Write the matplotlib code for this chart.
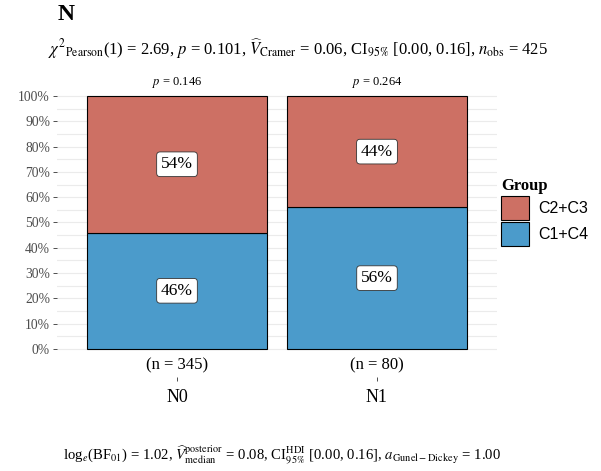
import matplotlib.pyplot as plt
from matplotlib.patches import Patch
from matplotlib.ticker import FixedLocator
import numpy as np

plt.rcParams['font.family'] = ['Liberation Serif', 'DejaVu Serif']
plt.rcParams['mathtext.fontset'] = 'stix'

# Données
categories = ['N0', 'N1']
counts = [345, 80]
pct_c1c4 = [46, 56]
pct_c2c3 = [54, 44]
p_values = ['0.146', '0.264']
y_ticks = [0, 10, 20, 30, 40, 50, 60, 70, 80, 90, 100]
y_ticklabels = ['0%', '10%', '20%', '30%', '40%', '50%', '60%', '70%', '80%', '90%', '100%']

red = '#CD7064'
blue = '#4B9BCB'

fig = plt.figure(figsize=(6.01, 4.71), dpi=100)
ax = fig.add_axes([57 / 601, 1 - 377 / 471, 440 / 601, (377 - 80) / 471])

x = np.arange(1, len(categories) + 1)
low = np.array(pct_c1c4) / 100
high = np.array(pct_c2c3) / 100

ax.bar(x, low, width=0.9, color=blue, edgecolor='black', linewidth=0.8, zorder=2)
ax.bar(x, high, bottom=low, width=0.9, color=red, edgecolor='black', linewidth=0.8, zorder=2)

box = dict(boxstyle='round,pad=0.25,rounding_size=0.2', fc='white', ec='#333333', lw=0.6)
for xi, a, b in zip(x, low, high):
    ax.text(xi, a / 2, f'{round(a * 100)}%', ha='center', va='center', fontsize=12.5, bbox=box, zorder=3)
    ax.text(xi, a + b / 2, f'{round(b * 100)}%', ha='center', va='center', fontsize=12.5, bbox=box, zorder=3)

for xi, p, n in zip(x, p_values, counts):
    ax.text(xi, 1.055, f'$p$ = {p}', ha='center', va='center', fontsize=9)
    ax.text(xi, -0.063, f'(n = {n})', ha='center', va='center', fontsize=12)

ax.set_xlim(0.4, 2.6)
ax.set_ylim(-0.1107, 1.063)

ax.set_xticks(x)
ax.set_xticklabels(categories, fontsize=13)
ax.set_yticks(np.array(y_ticks) / 100)
ax.set_yticklabels(y_ticklabels, fontsize=9.8, color='#4D4D4D')
ax.yaxis.set_minor_locator(FixedLocator(np.arange(0.05, 1.0, 0.1)))
ax.tick_params(axis='x', length=3, pad=6, color='#333333', width=0.6)
ax.tick_params(axis='y', which='major', length=3, pad=2, color='#333333', width=0.6)
ax.tick_params(axis='y', which='minor', length=0)

ax.yaxis.grid(True, which='both', color='#EBEBEB', linewidth=0.8)
ax.set_axisbelow(True)
for s in ax.spines.values():
    s.set_visible(False)

handles = [Patch(facecolor=red, edgecolor='black', linewidth=0.8, label='C2+C3'),
           Patch(facecolor=blue, edgecolor='black', linewidth=0.8, label='C1+C4')]
leg = fig.legend(handles=handles, title='Group', loc='upper left',
                 bbox_to_anchor=(487 / 601, 1 - 164 / 471), frameon=False,
                 prop={'family': 'Liberation Sans', 'size': 11.5},
                 title_fontproperties={'family': 'Liberation Serif', 'weight': 'bold', 'size': 12},
                 handlelength=1.7, handleheight=1.95, handletextpad=0.6, labelspacing=0.1,
                 alignment='left')

fig.text(58 / 601, 1 - 15 / 471, 'N', fontsize=17, fontweight='bold', va='center')
fig.text(48 / 601, 1 - 49 / 471,
         r'$\chi^{2}$$_{\mathrm{Pearson}}$(1) = 2.69, $p$ = 0.101, $\widehat{V}_{\mathrm{Cramer}}$ = 0.06, '
         r'CI$_{95\%}$ [0.00, 0.16], $n_{\mathrm{obs}}$ = 425',
         fontsize=12, va='center')
fig.text(63 / 601, 1 - 455 / 471,
         r'log$_{e}$(BF$_{01}$) = 1.02, $\widehat{V}_{\mathrm{median}}^{\mathrm{posterior}}$ = 0.08, '
         r'CI$_{95\%}^{\mathrm{HDI}}$ [0.00, 0.16], $a_{\mathrm{Gunel-Dickey}}$ = 1.00',
         fontsize=10.6, va='center')

fig.savefig('out.png', dpi=100)
